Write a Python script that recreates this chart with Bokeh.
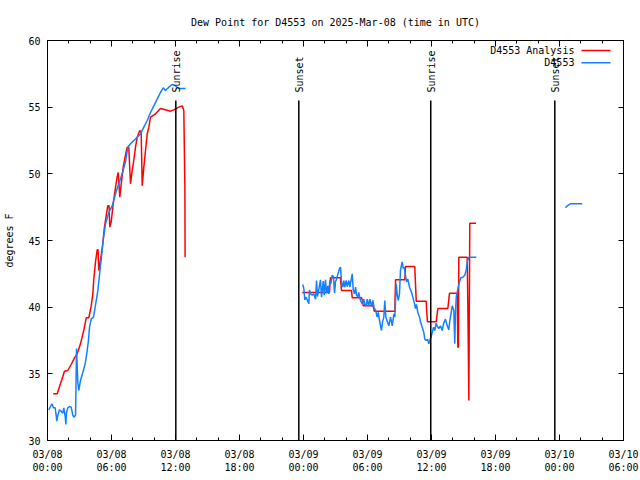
import math
from bokeh.plotting import figure
from bokeh.models import FixedTicker, LinearAxis, Range1d, Label
from bokeh.embed import file_html
from bokeh.resources import INLINE
from bokeh.core.properties import value

FONT = "DejaVu Sans Mono"

# ---- data (hours since 2025-03-08 00:00 UTC, dew point in F) ----
obs1_h = [0.12, 0.28, 0.41, 0.56, 0.72, 0.81, 0.87, 0.97, 1.12, 1.28,
          1.43, 1.53, 1.66, 1.72, 1.78, 1.90, 2.06, 2.22, 2.37, 2.47,
          2.63, 2.72, 2.84, 2.93, 3.09, 3.31, 3.53, 3.68, 3.84, 3.94,
          4.10, 4.31, 4.47, 4.57, 4.72, 4.90, 5.22, 5.44, 5.75, 6.07,
          6.38, 6.68, 7.00, 7.31, 7.53, 7.78, 8.09, 8.41, 8.72, 9.03,
          9.35, 9.66, 9.97, 10.28, 10.59, 10.85, 11.06, 11.37, 11.69, 12.00,
          12.31, 12.94]
obs1_v = [32.3, 32.55, 32.75, 32.45, 32.45, 31.9, 31.45, 31.9, 32.3, 32.2,
          32.05, 32.45, 31.8, 31.2, 32.1, 32.45, 32.55, 32.5, 31.9, 31.75,
          31.9, 36.9, 34.4, 33.75, 34.5, 35.1, 35.75, 36.5, 37.5, 38.5,
          39.1, 39.25, 40.0, 40.5, 41.25, 42.6, 45.0, 46.25, 47.1, 47.6,
          48.5, 49.25, 50.0, 50.9, 52.0, 52.25, 52.5, 52.75, 53.0, 53.5,
          54.0, 54.6, 55.1, 55.6, 56.1, 56.45, 56.25, 56.5, 56.7, 56.6,
          56.4, 56.4]

obs2_h = [23.93, 24.03, 24.12, 24.25, 24.50, 24.56, 24.66, 24.82, 24.97, 25.13,
          25.22, 25.31, 25.43, 25.59, 25.69, 25.85, 25.94, 26.06, 26.16, 26.28,
          26.37, 26.47, 26.56, 26.69, 26.81, 26.91, 27.00, 27.09, 27.25, 27.38,
          27.47, 27.56, 27.68, 27.78, 27.87, 28.00, 28.10, 28.25, 28.34, 28.47,
          28.57, 28.66, 28.78, 28.88, 28.97, 29.09, 29.18, 29.34, 29.50, 29.65,
          29.75, 29.88, 29.97, 30.12, 30.22, 30.38, 30.50, 30.63, 30.75, 30.91,
          31.00, 31.13, 31.22, 31.31, 31.41, 31.53, 31.62, 31.72, 31.85, 32.00,
          32.16, 32.32, 32.47, 32.56, 32.63, 32.69, 32.78, 32.88, 33.00, 33.09,
          33.25, 33.35, 33.44, 33.56, 33.66, 33.78, 33.94, 34.13, 34.25, 34.41,
          34.50, 34.59, 34.72, 34.88, 34.97, 35.13, 35.28, 35.37, 35.50, 35.63,
          35.75, 35.84, 35.97, 36.07, 36.19, 36.31, 36.44, 36.53, 36.68, 36.84,
          37.00, 37.15, 37.31, 37.47, 37.62, 37.72, 37.88, 37.94, 38.09, 38.18,
          38.25, 38.32, 38.41, 38.50, 38.63, 38.75, 38.93, 39.12, 39.25, 39.35,
          39.50, 40.20]
obs2_v = [41.7, 41.4, 40.55, 40.75, 40.25, 41.3, 41.0, 40.9, 41.0, 40.6,
          42.0, 40.8, 41.3, 42.05, 40.75, 41.95, 40.9, 42.05, 41.05, 41.6,
          41.0, 42.0, 41.75, 42.4, 42.3, 41.05, 41.9, 42.1, 42.55, 42.9,
          43.0, 41.9, 41.5, 42.0, 41.5, 42.0, 41.55, 42.0, 41.5, 42.05,
          42.5, 41.3, 41.0, 41.5, 40.9, 40.75, 41.1, 40.5, 40.25, 40.6,
          40.2, 40.1, 40.6, 40.1, 40.6, 40.05, 40.5, 39.9, 39.8, 39.25,
          39.6, 39.0, 38.6, 38.25, 38.9, 39.25, 40.5, 39.25, 38.95, 38.6,
          39.25, 38.6, 39.5, 39.25, 40.5, 41.75, 41.0, 40.5, 41.0, 42.75,
          43.4, 42.9, 43.0, 42.4, 41.9, 42.1, 41.5, 41.1, 40.75, 40.25,
          39.9, 40.2, 39.6, 39.25, 38.9, 38.5, 38.1, 37.6, 37.5, 37.6,
          37.25, 37.5, 37.8, 38.1, 38.5, 38.25, 38.8, 38.6, 38.4, 38.6,
          38.25, 38.8, 39.1, 38.6, 38.3, 39.0, 39.75, 40.1, 39.75, 37.25,
          39.6, 40.75, 41.1, 41.5, 41.9, 42.2, 42.25, 42.4, 42.75, 43.4,
          43.75, 43.75]

obs3_h = [48.56, 48.72, 49.03, 50.13]
obs3_v = [47.45, 47.6, 47.75, 47.75]

ana1_h = [0.53, 0.91, 1.13, 1.34, 1.59, 1.90, 2.22, 2.53, 2.78, 3.09,
          3.41, 3.63, 3.87, 4.10, 4.25, 4.34, 4.50, 4.66, 4.74, 4.81,
          4.97, 5.13, 5.34, 5.53, 5.65, 5.77, 5.84, 5.97, 6.16, 6.38,
          6.53, 6.63, 6.78, 6.91, 7.10, 7.31, 7.47, 7.62, 7.78, 7.94,
          8.09, 8.25, 8.41, 8.65, 8.78, 8.88, 9.03, 9.19, 9.35, 9.50,
          9.66, 10.13, 10.59, 11.06, 11.53, 11.84, 12.31, 12.63, 12.78, 12.88,
          12.90]
ana1_v = [33.5, 33.5, 34.05, 34.55, 35.2, 35.25, 35.7, 36.2, 36.5, 37.25,
          38.3, 39.2, 39.2, 40.1, 41.0, 42.1, 43.4, 44.3, 44.3, 42.75,
          43.5, 44.4, 46.0, 47.0, 47.6, 47.6, 46.0, 46.4, 47.75, 49.0,
          49.75, 50.1, 48.25, 49.25, 50.5, 51.4, 52.0, 52.0, 49.25, 50.25,
          51.0, 52.0, 52.75, 53.25, 53.1, 49.1, 50.5, 51.75, 53.0, 53.5,
          54.25, 54.5, 54.9, 54.8, 54.7, 54.8, 55.0, 55.1, 54.75, 49.0,
          43.75]

ana2_h = [23.88, 26.44, 26.48, 26.53, 27.47, 27.56, 28.50, 28.57, 29.44, 29.52,
          29.60, 30.53, 30.63, 32.56, 32.63, 33.50, 33.56, 34.43, 34.57, 35.50,
          35.56, 35.62, 36.44, 36.59, 37.53, 37.60, 37.69, 38.41, 38.44, 38.47,
          38.52, 38.56, 39.35, 39.44, 39.50, 39.59, 40.17]
ana2_v = [41.1, 41.1, 41.75, 42.2, 42.2, 41.25, 41.25, 40.7, 40.7, 40.5,
          40.1, 40.1, 39.7, 39.7, 42.05, 42.05, 43.05, 43.05, 40.45, 40.45,
          39.6, 38.9, 38.9, 39.9, 39.9, 40.4, 41.05, 41.05, 39.05, 37.0,
          37.0, 43.75, 43.75, 37.8, 33.0, 46.3, 46.3]

events = ["Sunrise", "Sunset", "Sunrise", "Sunset"]
event_h = [12.03, 23.56, 35.93, 47.56]

x_ticks = [0, 6, 12, 18, 24, 30, 36, 42, 48, 54]
x_minor = list(range(0, 55, 2))
x_labels = ["03/08\n00:00", "03/08\n06:00", "03/08\n12:00", "03/08\n18:00",
            "03/09\n00:00", "03/09\n06:00", "03/09\n12:00", "03/09\n18:00",
            "03/10\n00:00", "03/10\n06:00"]
y_ticks = [30, 35, 40, 45, 50, 55, 60]

series_names = ["D4553 Analysis", "D4553"]

# ---- style ----
RED = "#ff0000"
BLUE = "#1480ff"
LW = 1.5

p = figure(width=640, height=480, output_backend="svg", toolbar_location=None,
           title="Dew Point for D4553 on 2025-Mar-08 (time in UTC)",
           x_range=Range1d(0, 54), y_range=Range1d(30, 60),
           x_axis_type=None, y_axis_type=None,
           min_border_left=47, min_border_right=17,
           min_border_top=40, min_border_bottom=40)
p.grid.visible = False
p.background_fill_color = "white"
p.border_fill_color = "white"
p.outline_line_color = "black"
p.outline_line_width = 1

p.title.text_font = FONT
p.title.text_font_size = "10px"
p.title.text_font_style = "normal"
p.title.text_color = "black"
p.title.align = "center"
p.title.standoff = 26


def style_axis(ax, show_labels):
    ax.axis_line_color = "black"
    ax.major_tick_line_color = "black"
    ax.minor_tick_line_color = "black"
    ax.major_tick_out = 0
    ax.minor_tick_out = 0
    ax.major_label_text_font = FONT
    ax.major_label_text_font_size = "10px"
    if show_labels:
        ax.major_label_text_color = "black"
    else:
        ax.major_label_text_color = None
        ax.major_label_standoff = 0


xt = FixedTicker(ticks=x_ticks, minor_ticks=x_minor)
labels_map = dict(zip(x_ticks, x_labels))

bottom = LinearAxis(ticker=xt, major_label_overrides=labels_map)
style_axis(bottom, True)
bottom.major_tick_in = 6
bottom.minor_tick_in = 3
bottom.major_label_standoff = 8
p.add_layout(bottom, "below")

top = LinearAxis(ticker=FixedTicker(ticks=x_ticks, minor_ticks=x_minor),
                 major_label_overrides={t: "" for t in x_ticks})
style_axis(top, False)
top.major_tick_in = 6
top.minor_tick_in = 3
p.add_layout(top, "above")

left = LinearAxis(ticker=FixedTicker(ticks=y_ticks), axis_label="degrees F")
style_axis(left, True)
left.major_tick_in = 5
left.major_label_standoff = 7
left.axis_label_text_font = FONT
left.axis_label_text_font_size = "10px"
left.axis_label_text_font_style = "normal"
left.axis_label_text_color = "black"
left.axis_label_standoff = 10
p.add_layout(left, "left")

right = LinearAxis(ticker=FixedTicker(ticks=y_ticks),
                   major_label_overrides={t: "" for t in y_ticks})
style_axis(right, False)
right.major_tick_in = 5
p.add_layout(right, "right")

# analysis (red) and observations (blue)
for hh, vv in [(ana1_h, ana1_v), (ana2_h, ana2_v)]:
    p.line(hh, vv, line_color=RED, line_width=LW)
for hh, vv in [(obs1_h, obs1_v), (obs2_h, obs2_v), (obs3_h, obs3_v)]:
    p.line(hh, vv, line_color=BLUE, line_width=LW)

# sunrise / sunset markers
LINE_TOP = 55.5
TEXT_BASE = 56.1
p.segment(x0=event_h, y0=[30] * len(event_h), x1=event_h, y1=[LINE_TOP] * len(event_h),
          line_color="black", line_width=1.5)
p.text(x=event_h, y=[TEXT_BASE] * len(event_h), text=events, angle=math.pi / 2,
       text_align="left", text_baseline="middle", x_offset=1,
       text_font=value(FONT), text_font_size="10px", text_color="black")

# legend (text left of sample, top right)
LEG_TEXT_X = 49.4
LEG_LINE_X0 = 50.06
LEG_LINE_X1 = 52.78
LEG_Y = [59.25, 58.33]
for name, col, yy in zip(series_names, [RED, BLUE], LEG_Y):
    p.add_layout(Label(x=LEG_TEXT_X, y=yy, text=name, text_align="right",
                       text_baseline="middle", text_font=FONT,
                       text_font_size="10px", text_color="black"))
    p.segment(x0=[LEG_LINE_X0], y0=[yy], x1=[LEG_LINE_X1], y1=[yy],
              line_color=col, line_width=LW)

open("out.html", "w").write(file_html(p, INLINE))
